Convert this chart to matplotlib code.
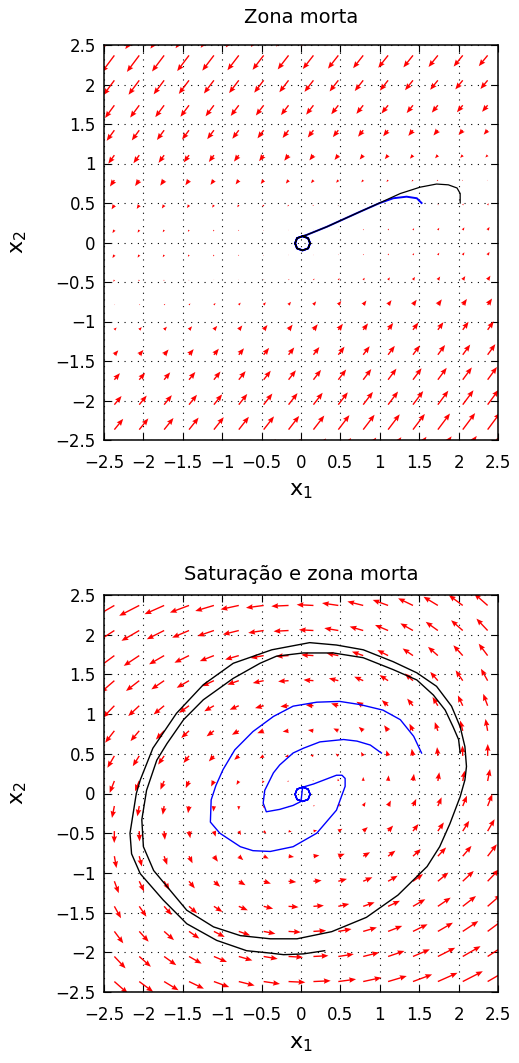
import numpy as np
import matplotlib
matplotlib.use('Agg')  # no display
import matplotlib.pyplot as plt

plt.rcParams['font.family'] = ['DejaVu Sans']
plt.rcParams['mathtext.fontset'] = 'dejavusans'

# axis ticks
tick_values = [-2.5, -2, -1.5, -1, -0.5, 0, 0.5, 1, 1.5, 2, 2.5]
tick_labels = ['\u22122.5', '\u22122', '\u22121.5', '\u22121', '\u22120.5', '0',
               '0.5', '1', '1.5', '2', '2.5']

# quiver grid (goes past the axis limits, arrows get clipped)
grid_lo, grid_hi, grid_n = -3.0, 3.0, 20

# dead zone plant: drift along x1 and dead-zone control along x2
dz_width = 0.3
dz_gain = (5.2, 6.7)
dz_drift = (0.8, 1.3)

# saturation + dead zone plant, linearised field
sat_matrix = [[1.5, -7.2],
              [5.0, 0.0]]

# limit cycle around the origin
loop_x1 = [0.02, -0.05, -0.075, -0.05, 0.02, 0.09, 0.115, 0.09, 0.02]
loop_x2 = [0.08, 0.055, -0.01, -0.075, -0.10, -0.075, -0.01, 0.055, 0.08]

# trajectories, "Zona morta"
dz_black_x1 = [2.02, 2.02, 1.98, 1.87, 1.72, 1.51, 1.26, 1.04, 0.75, 0.33, 0.07]
dz_black_x2 = [0.50, 0.62, 0.69, 0.73, 0.74, 0.70, 0.62, 0.52, 0.39, 0.20, 0.095]
dz_blue_x1 = [1.53, 1.47, 1.34, 1.17, 1.00, 0.75, 0.33, 0.07]
dz_blue_x2 = [0.50, 0.56, 0.58, 0.56, 0.50, 0.39, 0.20, 0.095]

# trajectories, "Saturacao e zona morta"
sat_black_x1 = [2.02, 2.00, 1.93, 1.83, 1.68, 1.47, 1.17, 0.79, 0.41, 0.03, -0.31,
                -0.52, -0.86, -1.24, -1.49, -1.70, -1.83, -1.96, -2.02, -2.00, -1.87,
                -1.66, -1.45, -1.11, -0.77, -0.39, -0.05, 0.39, 0.83, 1.23, 1.60,
                1.76, 1.89, 2.02, 2.08, 2.10, 2.08, 2.02, 1.91, 1.72, 1.47, 1.17,
                0.79, 0.45, 0.11, -0.37, -0.86, -1.24, -1.58, -1.88, -2.04, -2.09,
                -2.17, -2.15, -2.04, -1.75, -1.45, -1.07, -0.69, -0.39, -0.22, 0.03,
                0.30]
sat_black_x2 = [0.51, 0.68, 0.84, 1.05, 1.24, 1.43, 1.56, 1.71, 1.77, 1.77, 1.73,
                1.64, 1.45, 1.18, 0.93, 0.63, 0.42, 0.04, -0.33, -0.67, -0.97,
                -1.22, -1.47, -1.68, -1.79, -1.83, -1.83, -1.74, -1.56, -1.28, -0.92,
                -0.67, -0.38, -0.04, 0.17, 0.34, 0.59, 0.84, 1.10, 1.35, 1.52, 1.66,
                1.81, 1.87, 1.90, 1.81, 1.64, 1.37, 1.01, 0.57, 0.17, 0.00,
                -0.50, -0.76, -1.01, -1.34, -1.64, -1.85, -1.98, -2.01, -2.03, -2.02,
                -1.98]
sat_blue1_x1 = [1.53, 1.43, 1.26, 1.04, 0.75, 0.49, 0.20, -0.10, -0.35, -0.61, -0.84,
                -0.99, -1.08, -1.14, -1.15, -1.03, -0.77, -0.61, -0.39, -0.10, 0.20,
                0.45, 0.56, 0.56, 0.52, 0.45, 0.16, -0.01]
sat_blue1_x2 = [0.51, 0.72, 0.93, 1.05, 1.12, 1.16, 1.15, 1.10, 0.97, 0.78, 0.55,
                0.30, 0.10, -0.08, -0.36, -0.50, -0.67, -0.72, -0.73, -0.67, -0.50,
                -0.21, 0.09, 0.19, 0.23, 0.23, 0.12, 0.07]
sat_blue2_x1 = [1.02, 0.88, 0.71, 0.54, 0.24, 0.03, -0.10, -0.27, -0.35, -0.46,
                -0.48, -0.44, -0.27, -0.10, 0.00]
sat_blue2_x2 = [0.51, 0.61, 0.66, 0.68, 0.65, 0.57, 0.51, 0.36, 0.26, 0.04,
                -0.12, -0.23, -0.20, -0.15, -0.10]


def deadzone(u, w):
    return np.sign(u) * np.maximum(np.abs(u) - w, 0.0)


def field_deadzone(X1, X2):
    d = deadzone(X2, dz_width)
    return dz_drift[0] * X1 - dz_gain[0] * d, dz_drift[1] * X1 - dz_gain[1] * d


def field_saturation(X1, X2):
    m = sat_matrix
    return m[0][0] * X1 + m[0][1] * X2, m[1][0] * X1 + m[1][1] * X2


def with_loop(xs, ys):
    return list(xs) + loop_x1 * 2, list(ys) + loop_x2 * 2


def style_axes(ax, title, title_pad):
    ax.set_xlim(-2.5, 2.5)
    ax.set_ylim(-2.5, 2.5)
    ax.set_xticks(tick_values)
    ax.set_yticks(tick_values)
    ax.set_xticklabels(tick_labels)
    ax.set_yticklabels(tick_labels)
    ax.tick_params(direction='in', top=True, right=True, length=5, width=0.8,
                   labelsize=12, colors='k')
    ax.tick_params(axis='x', pad=10)
    ax.tick_params(axis='y', pad=6)
    ax.grid(True, color='k', linestyle=(0, (1, 5)), linewidth=0.8)
    ax.set_axisbelow(True)
    for s in ax.spines.values():
        s.set_linewidth(1.1)
    ax.set_title(title, fontsize=14, pad=title_pad)
    ax.set_xlabel(r'$\mathregular{x_1}$', fontsize=16)
    ax.set_ylabel(r'$\mathregular{x_2}$', fontsize=16)
    ax.xaxis.set_label_coords(0.5, -0.105)
    ax.yaxis.set_label_coords(-0.19, 0.5)


fig = plt.figure(figsize=(5.19, 10.63), dpi=100)
ax1 = fig.add_axes([104 / 519, 1 - 440 / 1063, 394 / 519, 395 / 1063])
ax2 = fig.add_axes([104 / 519, 1 - 992 / 1063, 394 / 519, 397 / 1063])

g = np.linspace(grid_lo, grid_hi, grid_n)
X1, X2 = np.meshgrid(g, g)

qkw = dict(color='#ff0000', angles='xy', scale_units='xy', scale=79,
           width=0.0035, headwidth=4, headlength=5, headaxislength=4.5,
           minlength=0.3, zorder=2)

U, V = field_deadzone(X1, X2)
ax1.quiver(X1, X2, U, V, **qkw)
bx, by = with_loop(dz_blue_x1, dz_blue_x2)
ax1.plot(bx, by, color='#0000ff', lw=1.4, zorder=3)
bx, by = with_loop(dz_black_x1, dz_black_x2)
ax1.plot(bx, by, color='k', lw=0.9, zorder=4)
style_axes(ax1, 'Zona morta', 16)

U, V = field_saturation(X1, X2)
ax2.quiver(X1, X2, U, V, **qkw)
ax2.plot(sat_black_x1, sat_black_x2, color='k', lw=1.0, zorder=3)
bx, by = with_loop(sat_blue1_x1, sat_blue1_x2)
ax2.plot(bx, by, color='#0000ff', lw=1.0, zorder=4)
bx, by = with_loop(sat_blue2_x1, sat_blue2_x2)
ax2.plot(bx, by, color='#0000ff', lw=1.0, zorder=4)
style_axes(ax2, 'Satura\u00e7\u00e3o e zona morta', 11)

fig.savefig('out.png', dpi=100)
plt.close(fig)
